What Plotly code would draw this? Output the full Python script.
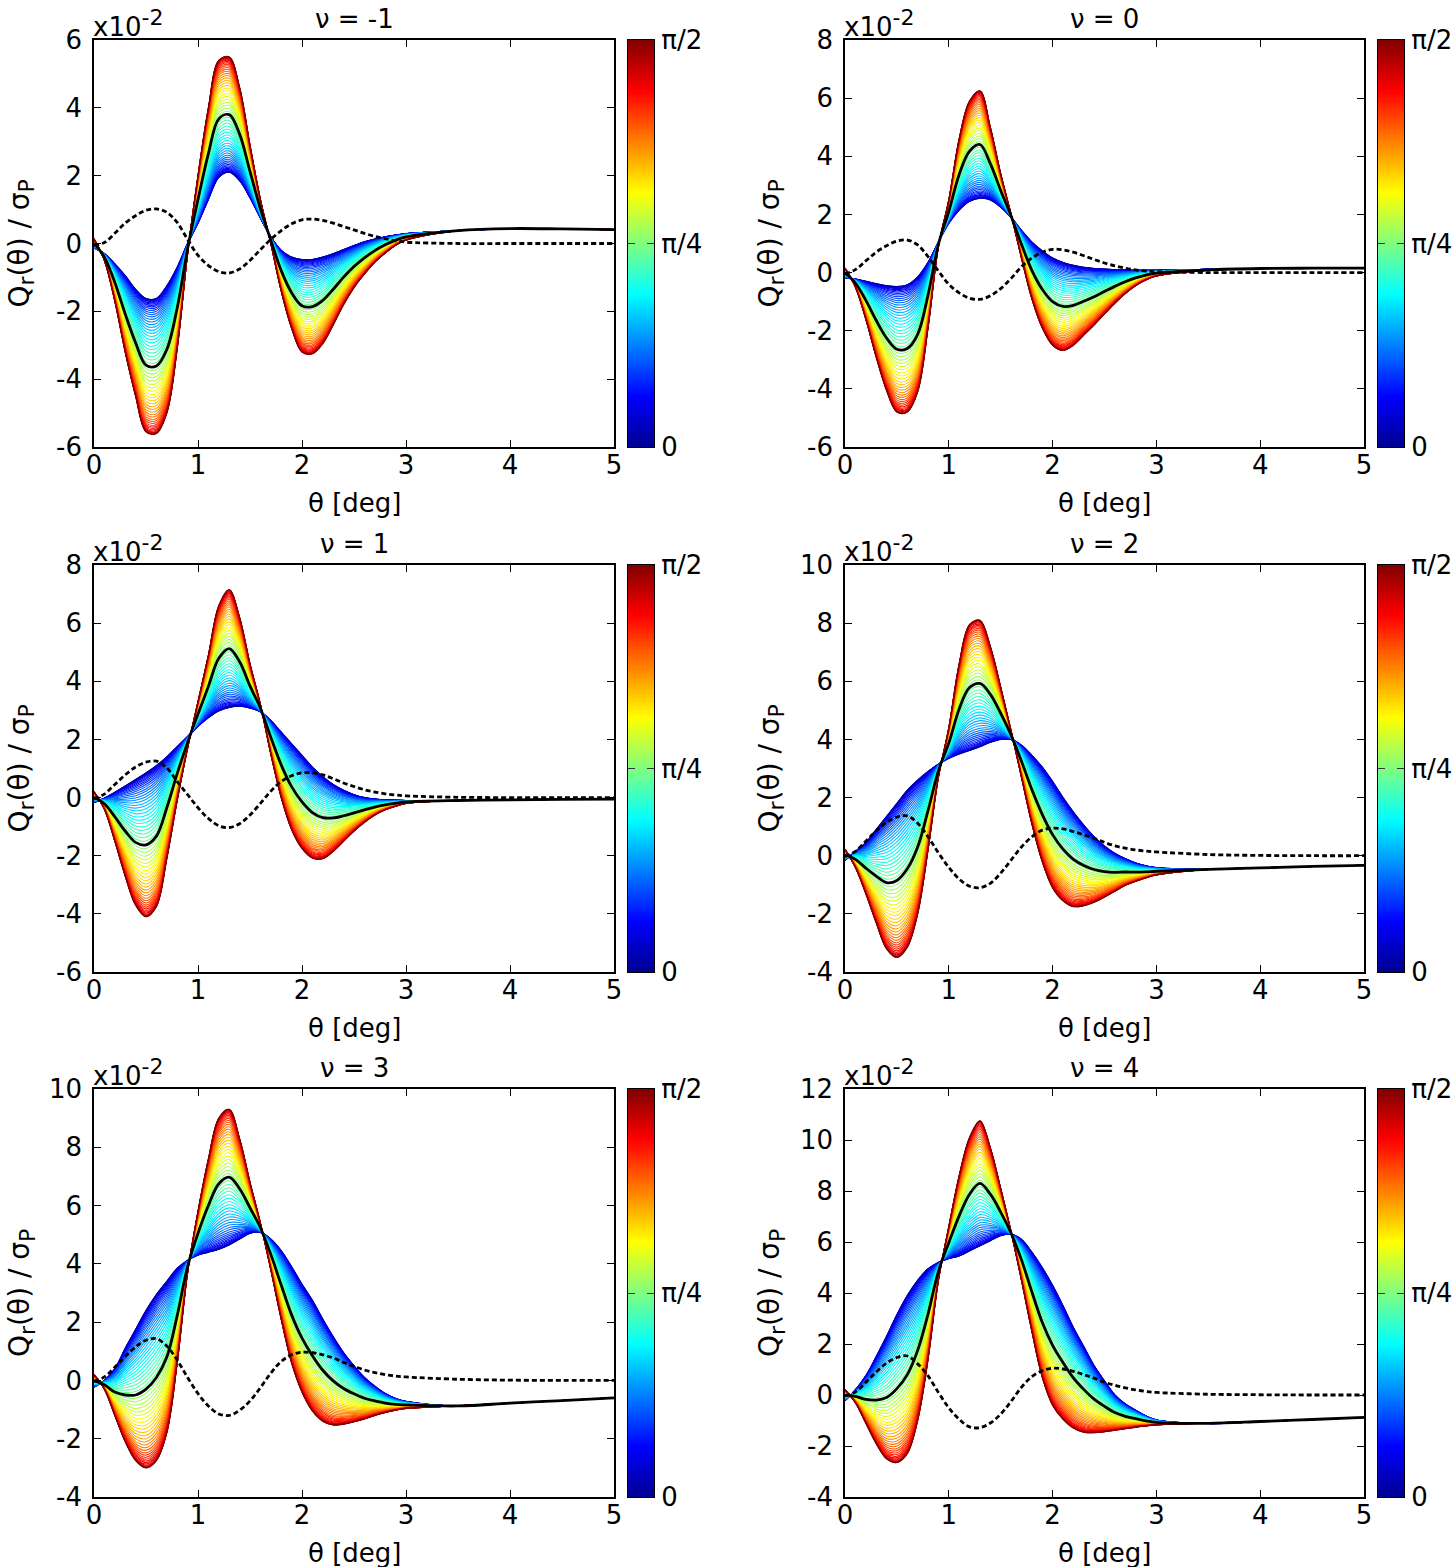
import numpy as np
import plotly.graph_objects as go
from plotly.colors import sample_colorscale

W, H = 1455, 1567
FONT = "DejaVu Sans, Liberation Sans, sans-serif"
FS = 26

# theta [deg] sample points
theta = [0.0, 0.1, 0.2, 0.3, 0.4, 0.5, 0.6, 0.7, 0.8, 0.9,
         1.0, 1.1, 1.2, 1.3, 1.4, 1.5, 1.6, 1.7, 1.8, 1.9,
         2.0, 2.1, 2.2, 2.3, 2.4, 2.5, 2.6, 2.7, 2.8, 2.9,
         3.0, 3.5, 4.0, 4.5, 5.0]

# values in units of 1e-2; "blue" = edge curve at 0, "red" = edge curve at pi/2
blue_m1 = [-0.13, -0.3, -0.6, -0.95, -1.35, -1.62, -1.62, -1.25, -0.7, 0.0,
           0.6, 1.3, 1.95, 2.1, 1.85, 1.35, 0.75, 0.2, -0.2, -0.4,
           -0.47, -0.47, -0.4, -0.3, -0.18, -0.06, 0.05, 0.13, 0.2, 0.25,
           0.29, 0.38, 0.44, 0.43, 0.41]
red_m1 = [0.14, -0.5, -1.7, -3.2, -4.5, -5.55, -5.6, -5.0, -3.1, -0.3,
          2.0, 4.0, 5.4, 5.5, 4.6, 2.9, 1.3, 0.0, -1.4, -2.5,
          -3.2, -3.25, -2.95, -2.4, -1.8, -1.3, -0.9, -0.55, -0.28, -0.05,
          0.1, 0.38, 0.44, 0.43, 0.41]
dot_m1 = [-0.05, 0.03, 0.3, 0.6, 0.82, 0.98, 1.02, 0.92, 0.62, 0.12,
          -0.35, -0.65, -0.83, -0.87, -0.75, -0.5, -0.18, 0.12, 0.38, 0.58,
          0.7, 0.72, 0.68, 0.6, 0.5, 0.4, 0.3, 0.21, 0.14, 0.08,
          0.04, 0.0, 0.0, 0.0, 0.0]

blue_0 = [-0.18, -0.22, -0.3, -0.38, -0.45, -0.48, -0.42, -0.15, 0.35, 1.05,
          1.7, 2.15, 2.45, 2.56, 2.5, 2.25, 1.9, 1.45, 1.05, 0.75,
          0.5, 0.35, 0.25, 0.18, 0.14, 0.12, 0.1, 0.09, 0.08, 0.08,
          0.08, 0.11, 0.14, 0.15, 0.15]
red_0 = [0.16, -0.5, -1.6, -2.9, -4.05, -4.8, -4.8, -4.1, -1.9, 0.9,
         2.5, 4.6, 5.9, 6.25, 5.0, 3.4, 2.0, 0.5, -0.9, -1.9,
         -2.5, -2.68, -2.5, -2.15, -1.8, -1.42, -1.05, -0.72, -0.45, -0.25,
         -0.12, 0.08, 0.14, 0.15, 0.15]
dot_0 = [-0.05, 0.1, 0.4, 0.7, 0.92, 1.08, 1.12, 0.95, 0.55, 0.05,
         -0.4, -0.7, -0.88, -0.92, -0.8, -0.55, -0.2, 0.2, 0.5, 0.7,
         0.8, 0.78, 0.7, 0.58, 0.45, 0.33, 0.23, 0.15, 0.09, 0.05,
         0.03, 0.0, 0.0, 0.0, 0.0]

blue_1 = [-0.17, -0.02, 0.18, 0.4, 0.62, 0.85, 1.1, 1.4, 1.75, 2.1,
          2.45, 2.75, 2.98, 3.1, 3.14, 3.08, 2.95, 2.65, 2.25, 1.85,
          1.45, 1.05, 0.72, 0.45, 0.25, 0.1, 0.0, -0.05, -0.08, -0.09,
          -0.1, -0.1, -0.08, -0.06, -0.05]
red_1 = [0.2, -0.4, -1.5, -2.7, -3.7, -4.1, -3.75, -2.1, -0.1, 1.7,
         3.3, 4.9, 6.6, 7.15, 6.2, 4.6, 3.2, 1.5, 0.0, -1.1,
         -1.75, -2.08, -2.1, -1.85, -1.5, -1.15, -0.85, -0.6, -0.42, -0.3,
         -0.2, -0.1, -0.08, -0.06, -0.05]
dot_1 = [-0.05, 0.12, 0.45, 0.78, 1.05, 1.22, 1.25, 1.02, 0.55, 0.1,
         -0.35, -0.72, -0.97, -1.03, -0.9, -0.6, -0.2, 0.22, 0.55, 0.75,
         0.85, 0.85, 0.78, 0.65, 0.5, 0.38, 0.27, 0.19, 0.13, 0.09,
         0.06, 0.01, 0.0, 0.0, 0.0]

blue_2 = [-0.16, 0.15, 0.45, 0.9, 1.35, 1.8, 2.25, 2.6, 2.9, 3.15,
          3.35, 3.5, 3.62, 3.75, 3.9, 4.0, 4.0, 3.8, 3.45, 3.05,
          2.55, 2.0, 1.5, 1.05, 0.65, 0.33, 0.08, -0.1, -0.25, -0.35,
          -0.41, -0.47, -0.42, -0.37, -0.33]
red_2 = [0.22, -0.4, -1.3, -2.3, -3.2, -3.5, -3.15, -2.0, 0.2, 2.7,
         4.4, 6.6, 7.95, 8.1, 7.2, 5.8, 4.3, 2.7, 1.1, -0.2,
         -1.1, -1.55, -1.75, -1.72, -1.6, -1.42, -1.22, -1.02, -0.88, -0.76,
         -0.66, -0.47, -0.42, -0.37, -0.33]
dot_2 = [-0.03, 0.15, 0.5, 0.85, 1.15, 1.33, 1.37, 1.12, 0.65, 0.1,
         -0.4, -0.8, -1.05, -1.1, -0.95, -0.6, -0.15, 0.3, 0.65, 0.88,
         0.95, 0.92, 0.83, 0.72, 0.6, 0.46, 0.34, 0.26, 0.2, 0.16,
         0.13, 0.04, 0.01, 0.0, 0.0]

blue_3 = [-0.23, 0.0, 0.4, 1.1, 1.75, 2.4, 2.95, 3.4, 3.85, 4.12,
          4.3, 4.4, 4.5, 4.65, 4.85, 5.05, 5.08, 4.85, 4.45, 3.9,
          3.3, 2.75, 2.1, 1.5, 0.95, 0.5, 0.1, -0.2, -0.45, -0.62,
          -0.72, -0.88, -0.78, -0.69, -0.6]
red_3 = [0.2, -0.3, -1.2, -2.1, -2.75, -3.0, -2.75, -1.8, 0.6, 3.7,
         5.8, 7.6, 9.0, 9.3, 8.3, 6.8, 5.4, 3.8, 2.1, 0.6,
         -0.4, -1.05, -1.4, -1.53, -1.5, -1.42, -1.32, -1.2, -1.1, -1.02,
         -0.96, -0.87, -0.78, -0.69, -0.6]
dot_3 = [-0.03, 0.12, 0.45, 0.82, 1.15, 1.38, 1.43, 1.18, 0.7, 0.1,
         -0.45, -0.88, -1.15, -1.2, -1.02, -0.7, -0.25, 0.25, 0.65, 0.88,
         0.97, 0.95, 0.88, 0.77, 0.62, 0.48, 0.36, 0.27, 0.2, 0.15,
         0.12, 0.04, 0.01, 0.0, 0.0]

blue_4 = [-0.22, 0.2, 0.75, 1.5, 2.3, 3.15, 3.9, 4.5, 4.95, 5.2,
          5.35, 5.45, 5.65, 5.85, 6.05, 6.25, 6.3, 6.1, 5.6, 5.0,
          4.3, 3.5, 2.65, 1.9, 1.15, 0.55, 0.0, -0.35, -0.6, -0.82,
          -0.98, -1.12, -1.04, -0.96, -0.88]
red_4 = [0.21, -0.3, -1.1, -1.9, -2.5, -2.65, -2.3, -1.0, 1.4, 4.5,
         6.6, 8.6, 10.1, 10.75, 9.7, 8.1, 6.4, 4.5, 2.5, 0.7,
         -0.4, -0.95, -1.3, -1.46, -1.48, -1.44, -1.38, -1.32, -1.26, -1.21,
         -1.17, -1.1, -1.04, -0.96, -0.88]
dot_4 = [-0.03, 0.12, 0.5, 0.9, 1.25, 1.47, 1.53, 1.22, 0.75, 0.1,
         -0.5, -0.95, -1.25, -1.28, -1.1, -0.75, -0.25, 0.3, 0.72, 0.95,
         1.05, 1.02, 0.93, 0.8, 0.66, 0.5, 0.38, 0.28, 0.2, 0.14,
         0.1, 0.03, 0.01, 0.0, 0.0]

nu_labels = ["-1", "0", "1", "2", "3", "4"]
y_ranges = [[-6, 6], [-6, 8], [-6, 8], [-4, 10], [-4, 10], [-4, 12]]
x_ticks = [0, 1, 2, 3, 4, 5]
cbar_ticks = [0, np.pi / 4, np.pi / 2]
cbar_ticktext = ["0", "π/4", "π/2"]
panels = [(blue_m1, red_m1, dot_m1), (blue_0, red_0, dot_0),
          (blue_1, red_1, dot_1), (blue_2, red_2, dot_2),
          (blue_3, red_3, dot_3), (blue_4, red_4, dot_4)]

# matlab / gnuplot style jet
JET = [[0.0, "rgb(0,0,143)"], [0.125, "rgb(0,0,255)"], [0.375, "rgb(0,255,255)"],
       [0.625, "rgb(255,255,0)"], [0.875, "rgb(255,0,0)"], [1.0, "rgb(128,0,0)"]]

# layout in pixels
col_x = [(94, 614), (845, 1364)]
row_y = [(40, 447), (565, 972), (1089, 1497)]
cbar_x = [(628, 654), (1378, 1404)]
ytitle_x = [21, 771]

N_PHI = 61
phi = np.linspace(0, np.pi / 2, N_PHI)
line_colors = sample_colorscale(JET, list(phi / (np.pi / 2)))
cbar_levels = np.linspace(0, np.pi / 2, 256)


def px(x):
    return x / W


def py(y):
    return 1 - y / H


fig = go.Figure()
annotations = []
tick_font = dict(family=FONT, size=FS, color="black")
axis_style = dict(showline=True, linecolor="black", linewidth=1.5, mirror="ticks",
                  ticks="inside", ticklen=7, tickwidth=1.2, tickcolor="black",
                  showgrid=False, zeroline=False, automargin=False,
                  tickfont=tick_font)

for i, (blue, red, dot) in enumerate(panels):
    r, c = divmod(i, 2)
    n = i + 1
    sfx = "" if n == 1 else str(n)
    xa, ya = "x" + sfx, "y" + sfx
    cb = str(n + 6)

    b = np.array(blue)
    rd = np.array(red)
    mid = (b + rd) / 2
    half = (b - rd) / 2
    for k, p in enumerate(phi):
        fig.add_trace(go.Scatter(
            x=theta, y=mid + half * np.cos(2 * p), mode="lines",
            line=dict(color=line_colors[k], width=1.1, shape="spline"),
            xaxis=xa, yaxis=ya, showlegend=False, hoverinfo="skip"))
    # black curve = pi/4 member of the family
    fig.add_trace(go.Scatter(
        x=theta, y=mid, mode="lines",
        line=dict(color="black", width=2.8, shape="spline"),
        xaxis=xa, yaxis=ya, showlegend=False, hoverinfo="skip"))
    fig.add_trace(go.Scatter(
        x=theta, y=dot, mode="lines",
        line=dict(color="black", width=2.8, dash="5px,3px", shape="spline"),
        xaxis=xa, yaxis=ya, showlegend=False, hoverinfo="skip"))
    # colour bar drawn as a one-column heatmap on its own axes
    fig.add_trace(go.Heatmap(
        z=[[v] for v in cbar_levels], x=[0], y=cbar_levels,
        colorscale=JET, zmin=0, zmax=np.pi / 2, showscale=False,
        xaxis="x" + cb, yaxis="y" + cb, hoverinfo="skip"))

    x0, x1 = col_x[c]
    y0, y1 = row_y[r]
    lo, hi = y_ranges[i]
    yt = list(range(lo, hi + 1, 2))
    fig.layout["xaxis" + sfx] = dict(
        domain=[px(x0), px(x1)], range=[0, 5], anchor=ya,
        tickvals=x_ticks, ticktext=[str(t) for t in x_ticks],
        ticklabelstandoff=-6, **axis_style)
    fig.layout["yaxis" + sfx] = dict(
        domain=[py(y1), py(y0)], range=[lo, hi], anchor=xa,
        tickvals=yt, ticktext=[str(t) for t in yt],
        ticklabelstandoff=5, **axis_style)

    cx0, cx1 = cbar_x[c]
    fig.layout["xaxis" + cb] = dict(
        domain=[px(cx0), px(cx1)], range=[-0.5, 0.5], anchor="y" + cb,
        showline=True, linecolor="black", linewidth=1.2, mirror=True,
        ticks="", showticklabels=False, showgrid=False, zeroline=False,
        automargin=False)
    fig.layout["yaxis" + cb] = dict(
        domain=[py(y1), py(y0)], range=[0, np.pi / 2], anchor="x" + cb,
        side="right", showline=True, linecolor="black", linewidth=1.2,
        mirror="ticks", ticks="inside", ticklen=7, tickwidth=1.2,
        tickcolor="#333", tickvals=cbar_ticks, ticktext=cbar_ticktext,
        ticklabelstandoff=1, showgrid=False, zeroline=False,
        automargin=False, tickfont=tick_font)

    xc = (x0 + x1) / 2
    yc = (y0 + y1) / 2
    ann = dict(xref="paper", yref="paper", showarrow=False,
               font=dict(family=FONT, size=FS, color="black"))
    annotations += [
        dict(ann, text="ν = " + nu_labels[i], x=px(xc), y=py(y0 - 21),
             xanchor="center", yanchor="middle"),
        dict(ann, text='x10<sup><span style="font-size:22px">-2</span></sup>',
             x=px(x0 - 3), y=py(y0 - 17), xanchor="left", yanchor="middle"),
        dict(ann, text="θ [deg]", x=px(xc), y=py(y1 + 56),
             xanchor="center", yanchor="middle"),
        dict(ann, text=('Q<sub><span style="font-size:22px">r</span></sub>(θ) / '
                        'σ<sub><span style="font-size:22px">P</span></sub>'),
             x=px(ytitle_x[c]), y=py(yc), textangle=-90,
             xanchor="center", yanchor="middle",
             font=dict(family=FONT, size=28, color="black")),
    ]

fig.update_layout(
    width=W, height=H, margin=dict(l=0, r=0, t=0, b=0, autoexpand=False),
    paper_bgcolor="white", plot_bgcolor="white",
    annotations=annotations, showlegend=False)

# the page body keeps its default 8px margin otherwise
fig.write_html("out.html", config={"displayModeBar": False},
               post_script="document.body.style.margin='0px';")
